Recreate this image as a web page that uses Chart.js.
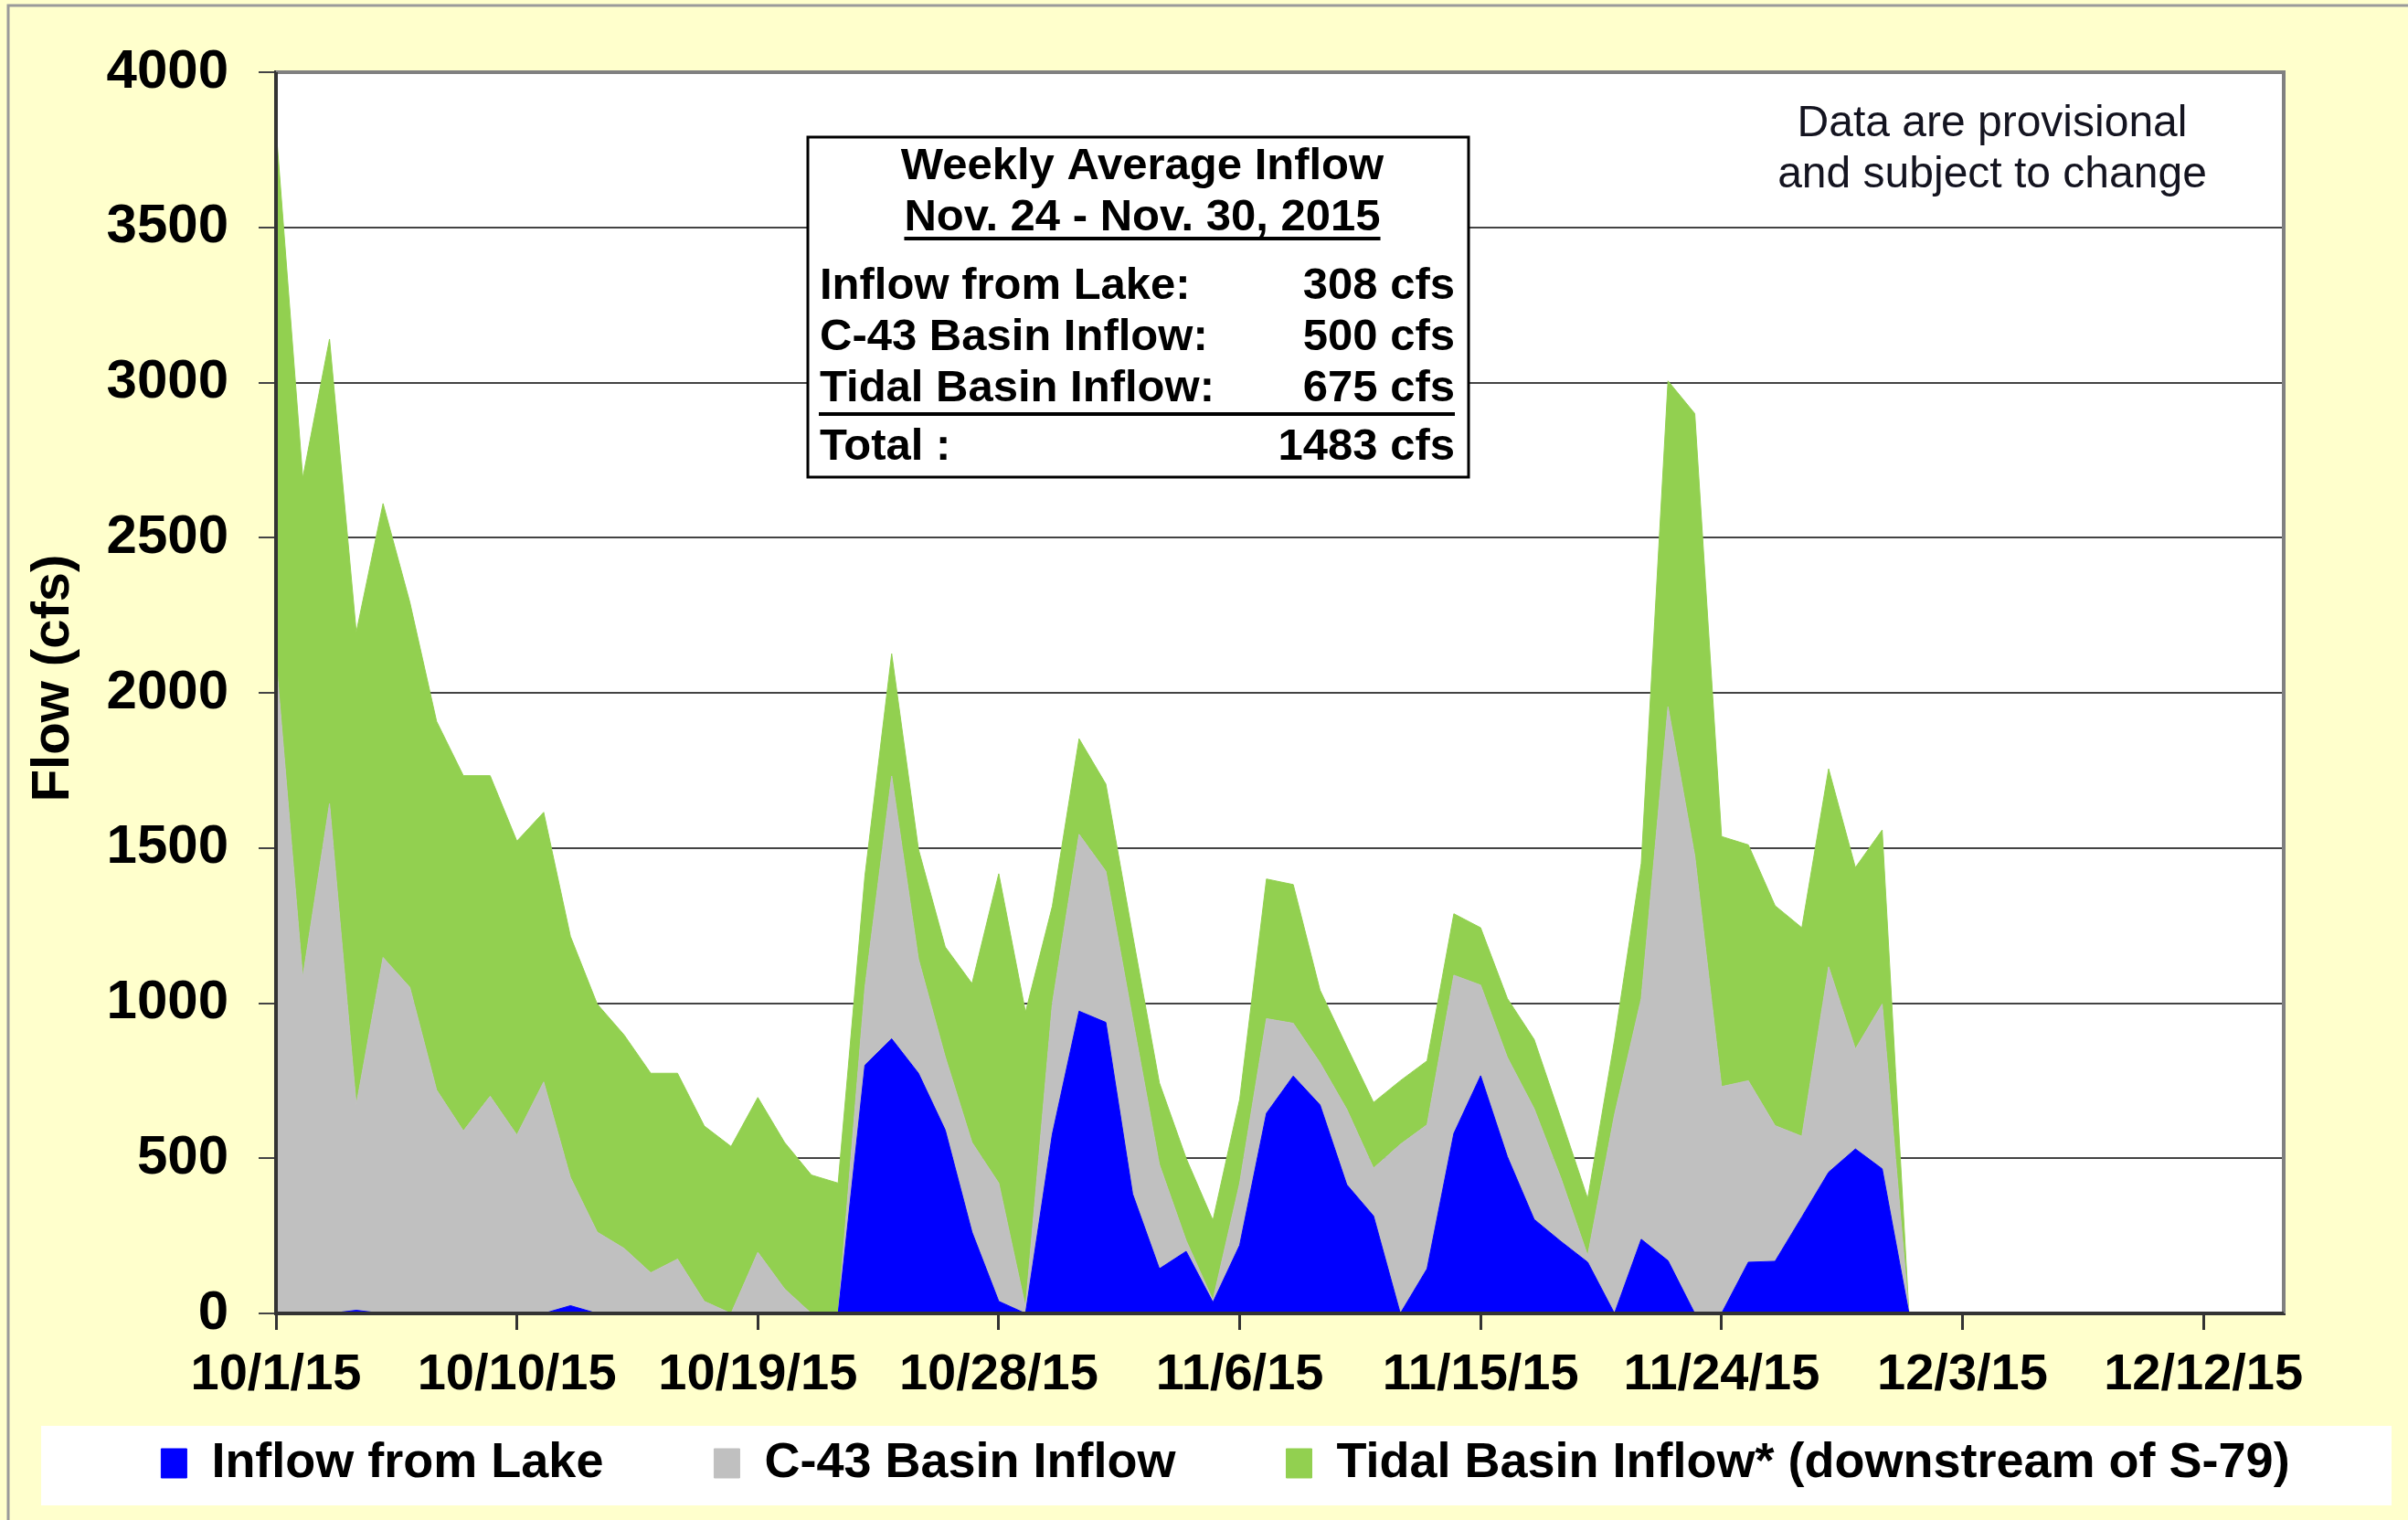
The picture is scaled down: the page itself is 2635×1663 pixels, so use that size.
<!DOCTYPE html>
<html><head><meta charset="utf-8">
<script src="https://cdn.jsdelivr.net/npm/chart.js@4/dist/chart.umd.min.js"></script>
<style>html,body{margin:0;padding:0;background:#FFFFCC;}canvas{display:block;}</style>
</head><body>
<canvas id="c" width="2635" height="1663"></canvas>
<script>
const dates = [
 '10/1/15','10/2/15','10/3/15','10/4/15','10/5/15','10/6/15','10/7/15','10/8/15','10/9/15','10/10/15',
 '10/11/15','10/12/15','10/13/15','10/14/15','10/15/15','10/16/15','10/17/15','10/18/15','10/19/15','10/20/15',
 '10/21/15','10/22/15','10/23/15','10/24/15','10/25/15','10/26/15','10/27/15','10/28/15','10/29/15','10/30/15',
 '10/31/15','11/1/15','11/2/15','11/3/15','11/4/15','11/5/15','11/6/15','11/7/15','11/8/15','11/9/15',
 '11/10/15','11/11/15','11/12/15','11/13/15','11/14/15','11/15/15','11/16/15','11/17/15','11/18/15','11/19/15',
 '11/20/15','11/21/15','11/22/15','11/23/15','11/24/15','11/25/15','11/26/15','11/27/15','11/28/15','11/29/15',
 '11/30/15','12/1/15','12/2/15','12/3/15','12/4/15','12/5/15','12/6/15','12/7/15','12/8/15','12/9/15',
 '12/10/15','12/11/15','12/12/15','12/13/15','12/14/15','12/15/15'
];
const tickLabels = ['10/1/15','10/10/15','10/19/15','10/28/15','11/6/15','11/15/15','11/24/15','12/3/15','12/12/15'];
const seriesNames = ['Inflow from Lake','C-43 Basin Inflow','Tidal Basin Inflow* (downstream of S-79)'];
const yTitle = 'Flow (cfs)';

const inflowFromLake = [
 0,0,0,10,0,0,0,0,0,0,
 0,25,0,0,0,0,0,0,0,0,
 0,0,800,885,774,591,262,39,0,577,
 974,938,385,144,200,36,220,645,765,672,
 415,314,0,144,580,766,505,303,232,165,
 0,239,170,0,0,165,168,311,455,530,
 466,0
];
const c43BasinInflow = [
 2110,1083,1643,662,1147,1051,720,588,700,575,
 746,413,262,210,131,175,39,0,197,79,
 0,0,250,847,368,236,289,381,20,420,
 570,487,565,336,35,7,200,305,170,136,
 243,154,545,464,510,292,320,357,204,21,
 640,776,1785,1475,731,585,437,260,662,322,
 531,0
];
const tidalBasinInflow = [
 1710,1609,1497,1523,1463,1241,1188,1145,1033,947,
 869,777,735,688,643,599,565,538,499,472,
 446,420,360,394,354,354,512,997,951,315,
 308,281,270,263,265,257,270,450,447,234,
 202,212,205,206,198,185,190,223,192,184,
 240,435,1050,1425,806,760,709,672,638,585,
 561,0
];

const weeklyTitle = ['Weekly Average Inflow','Nov. 24 - Nov. 30, 2015'];
const weeklyLabels = ['Inflow from Lake:','C-43 Basin Inflow:','Tidal Basin Inflow:'];
const weeklyValues = [308, 500, 675];
const noteLines = ['Data are provisional','and subject to change'];

const FONT = '"Liberation Sans", Arial, sans-serif';

const decor = {
  id: 'decor',
  beforeDraw(chart) {
    const {ctx, chartArea: a} = chart;
    if (chart.scales.x) chart.scales.x._computeLabelArea = () => null;
    ctx.save();
    ctx.fillStyle = '#FFFFCC';
    ctx.fillRect(0, 0, chart.width, chart.height);
    ctx.strokeStyle = '#9a9a9a';
    ctx.lineWidth = 3;
    ctx.strokeRect(9, 6, chart.width + 20, chart.height + 20);
    ctx.fillStyle = '#FFFFFF';
    ctx.fillRect(a.left, a.top, a.right - a.left, a.bottom - a.top);
    ctx.fillRect(45, 1560, 2572, 87);
    ctx.restore();
  },
  afterDatasetsDraw(chart) {
    const {ctx, chartArea: a} = chart;
    ctx.save();
    ctx.strokeStyle = '#808080';
    ctx.lineWidth = 4;
    ctx.beginPath();
    ctx.moveTo(a.left, a.top); ctx.lineTo(a.right, a.top); ctx.lineTo(a.right, a.bottom);
    ctx.stroke();
    ctx.strokeStyle = '#333333';
    ctx.beginPath();
    ctx.moveTo(a.left, a.top); ctx.lineTo(a.left, a.bottom); ctx.lineTo(a.right, a.bottom);
    ctx.stroke();
    ctx.restore();
  },
  afterDraw(chart) {
    const ctx = chart.ctx;
    ctx.save();
    // y axis title
    ctx.save();
    ctx.translate(59, 742);
    ctx.rotate(-Math.PI / 2);
    ctx.fillStyle = '#000';
    ctx.font = 'bold 58px ' + FONT;
    ctx.textAlign = 'center';
    ctx.textBaseline = 'middle';
    ctx.fillText(yTitle, 0, 0);
    ctx.restore();
    // weekly average box
    ctx.fillStyle = '#FFFFFF';
    ctx.fillRect(884, 150, 723, 372);
    ctx.strokeStyle = '#000';
    ctx.lineWidth = 3;
    ctx.strokeRect(884, 150, 723, 372);
    ctx.fillStyle = '#000';
    ctx.font = 'bold 49px ' + FONT;
    ctx.textBaseline = 'middle';
    ctx.textAlign = 'center';
    ctx.fillText(weeklyTitle[0], 1250, 182);
    ctx.fillText(weeklyTitle[1], 1250, 238);
    const w = ctx.measureText(weeklyTitle[1]).width;
    ctx.fillRect(1250 - w / 2, 259, w, 4);
    const rowsY = [313, 369, 425];
    weeklyLabels.forEach((lab, i) => {
      ctx.textAlign = 'left';
      ctx.fillText(lab, 897, rowsY[i]);
      ctx.textAlign = 'right';
      ctx.fillText(weeklyValues[i] + ' cfs', 1592, rowsY[i]);
    });
    ctx.fillRect(896, 451, 696, 4);
    ctx.textAlign = 'left';
    ctx.fillText('Total :', 897, 489);
    ctx.textAlign = 'right';
    ctx.fillText(weeklyValues.reduce((s, v) => s + v, 0) + ' cfs', 1592, 489);
    // provisional note
    ctx.font = '48px ' + FONT;
    ctx.textAlign = 'center';
    ctx.fillStyle = '#141420';
    ctx.fillText(noteLines[0], 2180, 136);
    ctx.fillText(noteLines[1], 2180, 192);
    ctx.restore();
  }
};

new Chart(document.getElementById('c'), {
  type: 'line',
  data: {
    labels: dates,
    datasets: [
      {label: seriesNames[0], data: inflowFromLake, backgroundColor: '#0000FF', borderColor: '#0000FF', borderWidth: 1, fill: 'origin', pointRadius: 0, tension: 0},
      {label: seriesNames[1], data: c43BasinInflow, backgroundColor: '#C0C0C0', borderColor: '#C0C0C0', borderWidth: 1, fill: '-1', pointRadius: 0, tension: 0},
      {label: seriesNames[2], data: tidalBasinInflow, backgroundColor: '#92D050', borderColor: '#92D050', borderWidth: 1, fill: '-1', pointRadius: 0, tension: 0}
    ]
  },
  options: {
    responsive: false,
    animation: false,
    devicePixelRatio: 1,
    layout: {padding: {left: 47, right: 0, top: 79, bottom: 25}},
    plugins: {
      tooltip: {enabled: false},
      legend: {
        position: 'bottom',
        labels: {
          boxWidth: 28, boxHeight: 32, padding: 121, color: '#000',
          font: {family: FONT, size: 54, weight: 'bold'}
        }
      }
    },
    scales: {
      x: {
        type: 'category',
        offset: false,
        grid: {
          drawOnChartArea: false, drawTicks: true, tickLength: 18, lineWidth: 3,
          color: (c) => (c.index % 9 === 0 ? '#333333' : 'rgba(0,0,0,0)')
        },
        border: {display: true, color: '#333333', width: 4},
        ticks: {
          autoSkip: false, maxRotation: 0, minRotation: 0, padding: 16, color: '#000',
          font: {family: FONT, size: 56, weight: 'bold'},
          callback: (v, i) => (i % 9 === 0 ? tickLabels[i / 9] : '')
        },
        afterFit: (s) => { s.height = 16; }
      },
      y: {
        stacked: true,
        min: 0, max: 4000,
        grid: {color: '#444444', lineWidth: 2, tickLength: 19},
        border: {display: true, color: '#333333', width: 4},
        ticks: {
          stepSize: 500, padding: 33, color: '#000',
          font: {family: FONT, size: 60, weight: 'bold'},
          callback: (v) => String(v)
        },
        title: {display: false},
        afterFit: (s) => { s.width = 255; }
      },
      yRight: {
        position: 'right',
        display: true,
        grid: {display: false},
        border: {display: false},
        ticks: {display: false},
        afterFit: (s) => { s.width = 136; }
      }
    }
  },
  plugins: [decor]
});
</script>
</body></html>
